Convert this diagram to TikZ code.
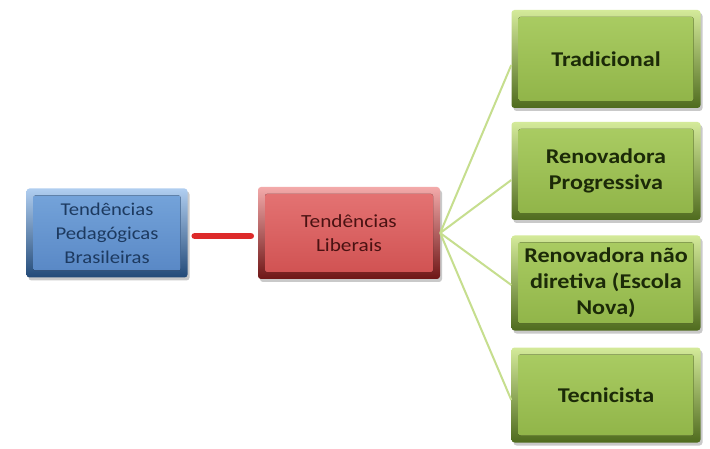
\documentclass[tikz,border=0pt]{standalone}
\usepackage{fontspec}
\setmainfont{Carlito}[FakeStretch=1.15]
\usetikzlibrary{shadows}
\definecolor{gOutTop}{HTML}{D4EA9A}
\definecolor{gOutBot}{HTML}{4F6B1E}
\definecolor{gInTop}{HTML}{ABCD64}
\definecolor{gInBot}{HTML}{8FB347}
\definecolor{gText}{HTML}{1C2A08}
\definecolor{bOutTop}{HTML}{B0CEF0}
\definecolor{bOutBot}{HTML}{234A78}
\definecolor{bInTop}{HTML}{76A5DB}
\definecolor{bInBot}{HTML}{5786C4}
\definecolor{bText}{HTML}{1D3A60}
\definecolor{rOutTop}{HTML}{F3AAAA}
\definecolor{rOutBot}{HTML}{6E1616}
\definecolor{rInTop}{HTML}{E57575}
\definecolor{rInBot}{HTML}{CF5050}
\definecolor{rText}{HTML}{4A1212}
\definecolor{fanGreen}{HTML}{C6DE8E}
\definecolor{linkRed}{HTML}{DD2A2A}
\tikzset{
  bevelbox/.style n args={4}{rectangle, rounded corners=3pt, align=center, inner sep=2pt,
    top color=#1, bottom color=#2,
    drop shadow={shadow xshift=2pt, shadow yshift=-3pt, opacity=0.35, fill=black!60},
    path picture={\fill[rounded corners=2pt, top color=#3, bottom color=#4]
      ([shift={(7pt,-7pt)}]path picture bounding box.north west) rectangle
      ([shift={(-7pt,7pt)}]path picture bounding box.south east);}},
  greenbox/.style={bevelbox={gOutTop}{gOutBot}{gInTop}{gInBot}, minimum width=189pt,
    text=gText, font=\bfseries\fontsize{21}{26}\selectfont},
  bluebox/.style={bevelbox={bOutTop}{bOutBot}{bInTop}{bInBot}, minimum width=161pt, minimum height=89pt,
    text=bText, font=\fontsize{18}{24}\selectfont},
  redbox/.style={bevelbox={rOutTop}{rOutBot}{rInTop}{rInBot}, minimum width=182pt, minimum height=92pt,
    text=rText, font=\fontsize{18.5}{24}\selectfont},
  fan/.style={draw=fanGreen, line width=2pt},
}
\begin{document}
\begin{tikzpicture}[x=1pt, y=-1pt]
\useasboundingbox[fill=white] (0,0) rectangle (710,449);
\node[greenbox, minimum height=98pt] (g1) at (606,59) {Tradicional};
\node[greenbox, minimum height=98pt] (g2) at (606,171) {\fontsize{21}{23}\selectfont Renovadora\\Progressiva};
\node[greenbox, minimum height=95pt] (g3) at (606,283) {Renovadora não\\diretiva (Escola\\Nova)};
\node[greenbox, minimum height=95pt] (g4) at (606,395) {Tecnicista};
\node[bluebox] (b) at (107,233) {Tendências\\Pedagógicas\\Brasileiras};
\node[redbox] (r) at (349,233) {Tendências\\Liberais};
\draw[fan] (r.east) -- ([yshift=-6pt]g1.west);
\draw[fan] (r.east) -- ([yshift=-9pt]g2.west);
\draw[fan] (r.east) -- ([yshift=-2pt]g3.west);
\draw[fan] (r.east) -- ([yshift=-5pt]g4.west);
\coordinate (lk) at ([xshift=7pt,yshift=-3pt]b.east);
\draw[draw=linkRed, line width=6.5pt, line cap=round] (lk) -- ([xshift=-7pt]lk -| r.west);
\end{tikzpicture}
\end{document}
